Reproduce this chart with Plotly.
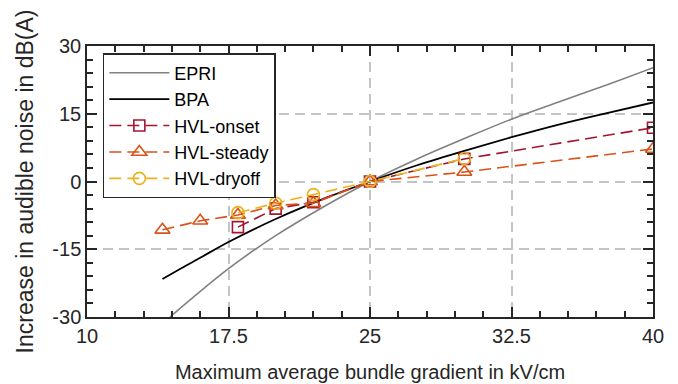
import plotly.graph_objects as go

# ---- data ----
epri_x = [14.4, 17.5, 20, 22.5, 25, 27.5, 30, 32.5, 35, 37.5, 40]
epri_y = [-30, -19.3, -12.0, -5.7, 0, 5.0, 9.5, 13.8, 17.6, 21.3, 25.2]

bpa_x = [14, 15, 16, 17.5, 20, 22.5, 25, 27.5, 30, 32.5, 35, 37.5, 40]
bpa_y = [-21.6, -19.2, -16.9, -13.4, -8.3, -3.9, 0, 3.6, 6.8, 9.8, 12.6, 15.1, 17.5]

onset_x = [18, 20, 22, 25, 30, 40]
onset_y = [-10.1, -6.0, -4.6, 0, 5.0, 11.9]

steady_x = [14, 16, 18, 20, 22, 25, 30, 40]
steady_y = [-10.7, -8.7, -7.4, -5.3, -4.8, 0, 2.1, 7.2]

dryoff_x = [18, 20, 22, 25, 30]
dryoff_y = [-6.9, -4.8, -2.9, 0, 5.1]

x_ticks = [10, 17.5, 25, 32.5, 40]
x_ticktext = ["10", "17.5", "25", "32.5", "40"]
y_ticks = [-30, -15, 0, 15, 30]
y_ticktext = ["-30", "-15", "0", "15", "30"]

FONT = "Liberation Sans, Arial, Helvetica, sans-serif"
AXC = "#262626"
DASH = "12px,6px"

fig = go.Figure()
fig.add_trace(go.Scatter(x=epri_x, y=epri_y, mode="lines", name="EPRI",
                         line=dict(color="#808080", width=1.6, shape="spline")))
fig.add_trace(go.Scatter(x=bpa_x, y=bpa_y, mode="lines", name="BPA",
                         line=dict(color="#000000", width=1.8, shape="spline")))
fig.add_trace(go.Scatter(x=onset_x, y=onset_y, mode="lines+markers", name="HVL-onset",
                         line=dict(color="#A2142F", width=1.6, dash=DASH),
                         marker=dict(symbol="square-open", size=11, color="#A2142F",
                                     line=dict(width=1.6, color="#A2142F"))))
fig.add_trace(go.Scatter(x=steady_x, y=steady_y, mode="lines+markers", name="HVL-steady",
                         line=dict(color="#D95319", width=1.6, dash=DASH),
                         marker=dict(symbol="triangle-up-open", size=13, color="#D95319",
                                     line=dict(width=1.6, color="#D95319"))))
fig.add_trace(go.Scatter(x=dryoff_x, y=dryoff_y, mode="lines+markers", name="HVL-dryoff",
                         line=dict(color="#EDB120", width=1.6, dash=DASH),
                         marker=dict(symbol="circle-open", size=12, color="#EDB120",
                                     line=dict(width=1.6, color="#EDB120"))))

axis_common = dict(
    showline=True, linecolor=AXC, linewidth=1.5, mirror="ticks",
    ticks="inside", ticklen=10, tickwidth=1.5, tickcolor=AXC,
    showgrid=True, gridcolor="#c4c4c4", gridwidth=1.5, griddash="10px,6px",
    zeroline=False, automargin=False,
    tickfont=dict(family=FONT, size=20, color=AXC),
)

fig.update_xaxes(
    range=[10, 40], tickmode="array", tickvals=x_ticks, ticktext=x_ticktext,
    minor=dict(ticks="inside", dtick=1.5, tick0=10, ticklen=6, tickwidth=1.5,
               tickcolor=AXC, showgrid=False),
    title=dict(text="Maximum average bundle gradient in kV/cm",
               font=dict(family=FONT, size=20, color=AXC), standoff=19),
    **axis_common,
)
fig.update_yaxes(
    range=[-30, 30], tickmode="array", tickvals=y_ticks, ticktext=y_ticktext,
    minor=dict(ticks="inside", dtick=3, tick0=-30, ticklen=6, tickwidth=1.5,
               tickcolor=AXC, showgrid=False),
    title=dict(text="Increase in audible noise in dB(A)",
               font=dict(family=FONT, size=23, color=AXC), standoff=12),
    **axis_common,
)

fig.update_layout(
    width=678, height=384,
    margin=dict(l=87, r=25, t=46, b=67),
    paper_bgcolor="white", plot_bgcolor="white",
    font=dict(family=FONT, size=20, color=AXC),
    showlegend=True,
    legend=dict(x=0.028, y=0.974, xanchor="left", yanchor="top",
                bgcolor="white", bordercolor=AXC, borderwidth=1.5,
                font=dict(family=FONT, size=18, color="#000000"),
                itemwidth=60, tracegroupgap=0),
)

fig.write_html("out.html")
